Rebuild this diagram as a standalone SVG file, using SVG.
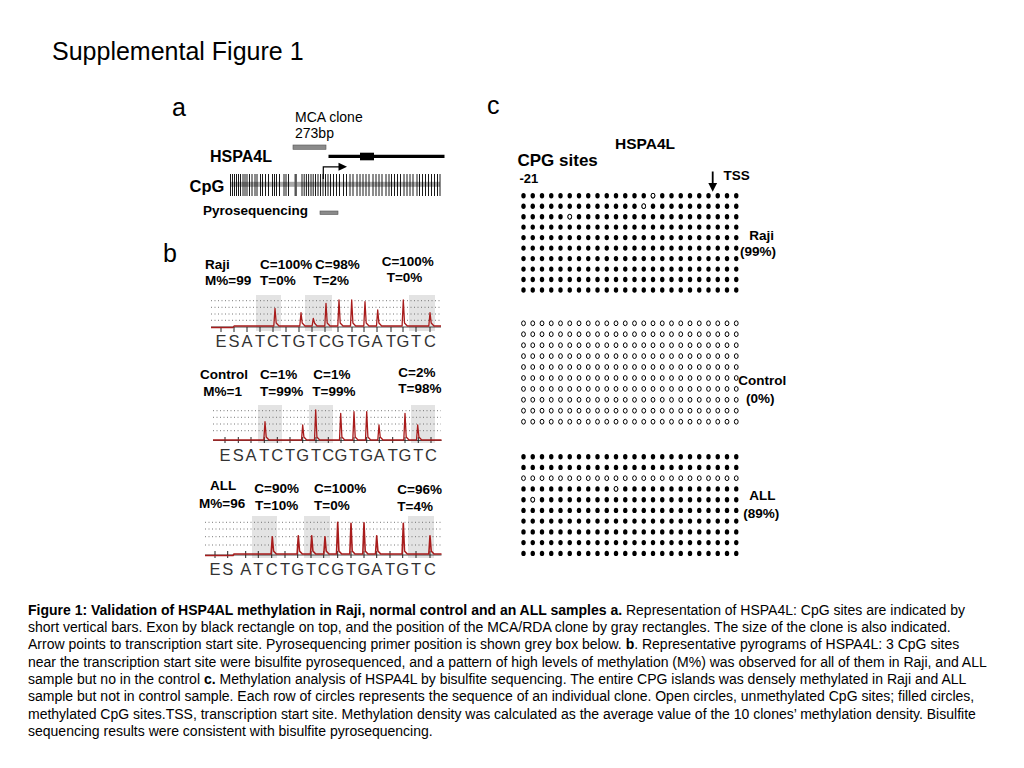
<svg xmlns="http://www.w3.org/2000/svg" xmlns:xlink="http://www.w3.org/1999/xlink" width="1024" height="768" viewBox="0 0 1024 768">
<style>
text{font-family:"Liberation Sans",Arial,sans-serif;fill:#000}
.b{font-weight:bold}
.lbl{font-size:13.5px;font-weight:bold}
.seq{font-size:16.5px;fill:#333;text-anchor:middle}
.cap{font-size:14px}
.shade{fill:#e3e3e3}
.dot{stroke:#555;stroke-width:0.8;stroke-dasharray:1 2.5}
.trace{fill:none;stroke:#a81c1c;stroke-width:1.3;stroke-linejoin:round}
.base{stroke:#222;stroke-width:0.8}
.tick{stroke:#222;stroke-width:1}
.f{fill:#000}
.o{fill:#fff;stroke:#000;stroke-width:1}
</style>
<defs>
<g id="rf">
<ellipse class="f" cx="523.5" cy="0" rx="2.2" ry="2.7"/><ellipse class="f" cx="532.75" cy="0" rx="2.2" ry="2.7"/><ellipse class="f" cx="542" cy="0" rx="2.2" ry="2.7"/><ellipse class="f" cx="551.25" cy="0" rx="2.2" ry="2.7"/><ellipse class="f" cx="560.5" cy="0" rx="2.2" ry="2.7"/><ellipse class="f" cx="569.75" cy="0" rx="2.2" ry="2.7"/><ellipse class="f" cx="579" cy="0" rx="2.2" ry="2.7"/><ellipse class="f" cx="588.25" cy="0" rx="2.2" ry="2.7"/><ellipse class="f" cx="597.5" cy="0" rx="2.2" ry="2.7"/><ellipse class="f" cx="606.75" cy="0" rx="2.2" ry="2.7"/><ellipse class="f" cx="616" cy="0" rx="2.2" ry="2.7"/><ellipse class="f" cx="625.25" cy="0" rx="2.2" ry="2.7"/><ellipse class="f" cx="634.5" cy="0" rx="2.2" ry="2.7"/><ellipse class="f" cx="643.75" cy="0" rx="2.2" ry="2.7"/><ellipse class="f" cx="653" cy="0" rx="2.2" ry="2.7"/><ellipse class="f" cx="662.25" cy="0" rx="2.2" ry="2.7"/><ellipse class="f" cx="671.5" cy="0" rx="2.2" ry="2.7"/><ellipse class="f" cx="680.75" cy="0" rx="2.2" ry="2.7"/><ellipse class="f" cx="690" cy="0" rx="2.2" ry="2.7"/><ellipse class="f" cx="699.25" cy="0" rx="2.2" ry="2.7"/><ellipse class="f" cx="708.5" cy="0" rx="2.2" ry="2.7"/><ellipse class="f" cx="717.75" cy="0" rx="2.2" ry="2.7"/><ellipse class="f" cx="727" cy="0" rx="2.2" ry="2.7"/><ellipse class="f" cx="736.25" cy="0" rx="2.2" ry="2.7"/>
</g>
<g id="ro">
<ellipse class="o" cx="523.5" cy="0" rx="1.9" ry="2.4"/><ellipse class="o" cx="532.75" cy="0" rx="1.9" ry="2.4"/><ellipse class="o" cx="542" cy="0" rx="1.9" ry="2.4"/><ellipse class="o" cx="551.25" cy="0" rx="1.9" ry="2.4"/><ellipse class="o" cx="560.5" cy="0" rx="1.9" ry="2.4"/><ellipse class="o" cx="569.75" cy="0" rx="1.9" ry="2.4"/><ellipse class="o" cx="579" cy="0" rx="1.9" ry="2.4"/><ellipse class="o" cx="588.25" cy="0" rx="1.9" ry="2.4"/><ellipse class="o" cx="597.5" cy="0" rx="1.9" ry="2.4"/><ellipse class="o" cx="606.75" cy="0" rx="1.9" ry="2.4"/><ellipse class="o" cx="616" cy="0" rx="1.9" ry="2.4"/><ellipse class="o" cx="625.25" cy="0" rx="1.9" ry="2.4"/><ellipse class="o" cx="634.5" cy="0" rx="1.9" ry="2.4"/><ellipse class="o" cx="643.75" cy="0" rx="1.9" ry="2.4"/><ellipse class="o" cx="653" cy="0" rx="1.9" ry="2.4"/><ellipse class="o" cx="662.25" cy="0" rx="1.9" ry="2.4"/><ellipse class="o" cx="671.5" cy="0" rx="1.9" ry="2.4"/><ellipse class="o" cx="680.75" cy="0" rx="1.9" ry="2.4"/><ellipse class="o" cx="690" cy="0" rx="1.9" ry="2.4"/><ellipse class="o" cx="699.25" cy="0" rx="1.9" ry="2.4"/><ellipse class="o" cx="708.5" cy="0" rx="1.9" ry="2.4"/><ellipse class="o" cx="717.75" cy="0" rx="1.9" ry="2.4"/><ellipse class="o" cx="727" cy="0" rx="1.9" ry="2.4"/><ellipse class="o" cx="736.25" cy="0" rx="1.9" ry="2.4"/>
</g>
</defs>
<rect width="1024" height="768" fill="#fff"/>

<text x="52" y="59.5" style="font-size:25px">Supplemental Figure 1</text>

<g id="panel-a">
<text x="172" y="116" style="font-size:25px">a</text>
<text x="295" y="121.5" style="font-size:14px">MCA clone</text>
<text x="295" y="137.5" style="font-size:14px">273bp</text>
<rect x="293" y="145" width="33" height="4.3" fill="#8a8a8a" stroke="#555" stroke-width="0.6"/>
<text x="210" y="162" class="b" style="font-size:16px">HSPA4L</text>
<line x1="328.5" y1="156.3" x2="444.5" y2="156.3" stroke="#000" stroke-width="3.3"/>
<rect x="360" y="152.7" width="14" height="7.6" fill="#000"/>
<text x="189.5" y="191.5" class="b" style="font-size:16.5px">CpG</text>
<rect x="230" y="181.8" width="210" height="5" fill="#aaa"/>
<path stroke="#000" stroke-width="0.9" d="M230.5,174V196M232.5,174V196M234.5,174V196M236.5,174V196M238.5,174V196M240.5,174V196M243,174V196M245,174V196M247,174V196M249.5,174V196M252,174V196M255,174V196M257,174V196M260.5,174V196M262.5,174V196M265.5,174V196M268.5,174V196M272.5,174V196M274.5,174V196M276.5,174V196M279.5,174V196M284,174V196M286,174V196M288.5,174V196M302,174V196M304.2,174V196M306.4,174V196M308.6,174V196M311,174V196M313.2,174V196M315.5,174V196M318,174V196M320.5,174V196M323,174V196M325.5,174V196M328,174V196M330.5,174V196M333.5,174V196M336.5,174V196M339.5,174V196M343.5,174V196M346.5,174V196M350,174V196M353,174V196M357,174V196M360,174V196M363,174V196M366,174V196M369,174V196M373,174V196M376,174V196M379,174V196M382,174V196M386,174V196M389,174V196M391.5,174V196M394.5,174V196M397.5,174V196M400.5,174V196M404,174V196M407,174V196M410,174V196M413,174V196M417,174V196M419.5,174V196M422.5,174V196M425.5,174V196M428.5,174V196M431.5,174V196M434.5,174V196M437.5,174V196M440,174V196"/>
<rect x="294.5" y="174" width="2.4" height="22" fill="#555"/>
<polyline points="323.3,179 323.3,166.8 340,166.8" fill="none" stroke="#000" stroke-width="1.2"/>
<polygon points="338.5,162.8 347,166.8 338.5,170.8" fill="#000"/>
<text x="203" y="214.5" class="b" style="font-size:13.5px">Pyrosequencing</text>
<rect x="320" y="211" width="18" height="3.5" fill="#8a8a8a" stroke="#555" stroke-width="0.6"/>
</g>

<g id="panel-b">
<text x="163" y="262" style="font-size:25px">b</text>

<g id="pyro-raji">
<text x="205" y="269.3" class="lbl">Raji</text>
<text x="205" y="285" class="lbl">M%=99</text>
<text x="260" y="269.3" class="lbl">C=100%</text>
<text x="260" y="285" class="lbl">T=0%</text>
<text x="315" y="269.3" class="lbl">C=98%</text>
<text x="313.3" y="285" class="lbl">T=2%</text>
<text x="381.7" y="266" class="lbl">C=100%</text>
<text x="386.7" y="281.7" class="lbl">T=0%</text>
<rect class="shade" x="256" y="295" width="25" height="36"/>
<rect class="shade" x="305" y="295" width="27" height="36"/>
<rect class="shade" x="409" y="295" width="26" height="36"/>
<path class="dot" d="M211,300.7H441M211,307.3H441M211,314H441M211,320.3H441"/>
<line class="base" x1="211" y1="327" x2="441" y2="327"/>
<path class="tick" d="M221,327V332M234,327V332M247,327V332M260,327V332M273,327V332M286,327V332M299,327V332M312,327V332M325,327V332M338,327V332M352,327V332M364,327V332M377,327V332M391,327V332M403,327V332M416,327V332M430,327V332"/>
<path class="trace" d="M211,327.5 L233,327.5 L234,326 L273.8,326 L275,308.3 L276.2,323 L279,326 L299.8,326 L301,312.7 L302.2,323 L305,326 L312.1,326 L313.3,318.3 L314.5,323 L317,326 L324.8,326 L326,303.3 L327.2,323 L330,326 L337.8,326 L339,300 L340.2,323 L343,326 L350.5,326 L351.7,300 L352.9,323 L355.7,326 L363.8,326 L365,301.7 L366.2,323 L369,326 L376.5,326 L377.7,310 L378.9,323 L381.7,326 L402.1,326 L403.3,300 L404.5,323 L407.3,326 L428.8,326 L430,312.7 L431.2,323 L434,326 L441,326"/>
<g><text x="221" y="346.5" class="seq">E</text><text x="234" y="346.5" class="seq">S</text><text x="247" y="346.5" class="seq">A</text><text x="260" y="346.5" class="seq">T</text><text x="273" y="346.5" class="seq">C</text><text x="286" y="346.5" class="seq">T</text><text x="299" y="346.5" class="seq">G</text><text x="312" y="346.5" class="seq">T</text><text x="325" y="346.5" class="seq">C</text><text x="338" y="346.5" class="seq">G</text><text x="352" y="346.5" class="seq">T</text><text x="364" y="346.5" class="seq">G</text><text x="377" y="346.5" class="seq">A</text><text x="391" y="346.5" class="seq">T</text><text x="403" y="346.5" class="seq">G</text><text x="416" y="346.5" class="seq">T</text><text x="430" y="346.5" class="seq">C</text></g>
</g>

<g id="pyro-control">
<text x="200" y="379.3" class="lbl">Control</text>
<text x="203.3" y="396" class="lbl">M%=1</text>
<text x="260" y="379.3" class="lbl">C=1%</text>
<text x="260" y="396" class="lbl">T=99%</text>
<text x="313.3" y="379.3" class="lbl">C=1%</text>
<text x="312.3" y="396" class="lbl">T=99%</text>
<text x="398.3" y="376.7" class="lbl">C=2%</text>
<text x="398.3" y="393.3" class="lbl">T=98%</text>
<rect class="shade" x="258" y="405" width="24" height="38"/>
<rect class="shade" x="309" y="405" width="24" height="38"/>
<rect class="shade" x="411" y="405" width="24" height="38"/>
<path class="dot" d="M213,410.7H441M213,417.3H441M213,424H441M213,430.7H441"/>
<line class="base" x1="213" y1="440.5" x2="441.5" y2="440.5"/>
<path class="tick" d="M225,437V443M238.3,437V443M251,437V443M264.3,437V443M277.3,437V443M290,437V443M302.7,437V443M316,437V443M328.3,437V443M341,437V443M354,437V443M366.7,437V443M379.3,437V443M392.7,437V443M405,437V443M418.3,437V443M431,437V443"/>
<path class="trace" d="M213,440 L263.8,440 L265,421.7 L266.2,437 L269,440 L301.5,440 L302.7,425 L303.9,437 L306.7,440 L314.5,440 L315.7,410 L316.9,437 L319.7,440 L339.5,440 L340.7,413.3 L341.9,437 L344.7,440 L352.8,440 L354,411.7 L355.2,437 L358,440 L365.5,440 L366.7,411.7 L367.9,437 L370.7,440 L377.8,440 L379,425 L380.2,437 L383,440 L403.8,440 L405,413.3 L406.2,437 L409,440 L416.5,440 L417.7,425 L418.9,437 L421.7,440 L441.5,440"/>
<g><text x="225" y="460.5" class="seq">E</text><text x="238.3" y="460.5" class="seq">S</text><text x="251" y="460.5" class="seq">A</text><text x="264.3" y="460.5" class="seq">T</text><text x="277.3" y="460.5" class="seq">C</text><text x="290" y="460.5" class="seq">T</text><text x="302.7" y="460.5" class="seq">G</text><text x="316" y="460.5" class="seq">T</text><text x="328.3" y="460.5" class="seq">C</text><text x="341" y="460.5" class="seq">G</text><text x="354" y="460.5" class="seq">T</text><text x="366.7" y="460.5" class="seq">G</text><text x="379.3" y="460.5" class="seq">A</text><text x="392.7" y="460.5" class="seq">T</text><text x="405" y="460.5" class="seq">G</text><text x="418.3" y="460.5" class="seq">T</text><text x="431" y="460.5" class="seq">C</text></g>
</g>

<g id="pyro-all">
<text x="210" y="490" class="lbl">ALL</text>
<text x="199" y="508.3" class="lbl">M%=96</text>
<text x="254.3" y="493.3" class="lbl">C=90%</text>
<text x="255" y="510" class="lbl">T=10%</text>
<text x="314" y="493.3" class="lbl">C=100%</text>
<text x="314" y="510" class="lbl">T=0%</text>
<text x="397.3" y="494" class="lbl">C=96%</text>
<text x="397.3" y="511" class="lbl">T=4%</text>
<rect class="shade" x="252" y="516" width="25" height="42"/>
<rect class="shade" x="304" y="516" width="26" height="42"/>
<rect class="shade" x="408" y="516" width="26" height="42"/>
<path class="dot" d="M205,522.3H441M205,529H441M205,536.7H441M205,545H441"/>
<line class="base" x1="205" y1="555" x2="441.5" y2="555"/>
<path class="tick" d="M215,551V558M227.7,551V558M245.7,551V558M258.3,551V558M271.7,551V558M285,551V558M297.7,551V558M311,551V558M323.7,551V558M337.7,551V558M351,551V558M364,551V558M376.7,551V558M390,551V558M402.7,551V558M416,551V558M430,551V558"/>
<path class="trace" style="stroke-width:1.6" d="M205,555.5 L233,555.5 L234,554 L271.1,554 L272.3,536.7 L273.5,551 L276.3,554 L297.1,554 L298.3,535.7 L299.5,551 L302.3,554 L310.5,554 L311.7,535.7 L312.9,551 L315.7,554 L323.8,554 L325,536.7 L326.2,551 L329,554 L336.5,554 L337.7,522.3 L338.9,551 L341.7,554 L349.8,554 L351,523.3 L352.2,551 L355,554 L362.8,554 L364,522.7 L365.2,551 L368,554 L375.5,554 L376.7,535.7 L377.9,551 L380.7,554 L402.1,554 L403.3,523.3 L404.5,551 L407.3,554 L428.8,554 L430,535.7 L431.2,551 L434,554 L441.5,554"/>
<g><text x="215" y="574.5" class="seq">E</text><text x="227.7" y="574.5" class="seq">S</text><text x="245.7" y="574.5" class="seq">A</text><text x="258.3" y="574.5" class="seq">T</text><text x="271.7" y="574.5" class="seq">C</text><text x="285" y="574.5" class="seq">T</text><text x="297.7" y="574.5" class="seq">G</text><text x="311" y="574.5" class="seq">T</text><text x="323.7" y="574.5" class="seq">C</text><text x="337.7" y="574.5" class="seq">G</text><text x="351" y="574.5" class="seq">T</text><text x="364" y="574.5" class="seq">G</text><text x="376.7" y="574.5" class="seq">A</text><text x="390" y="574.5" class="seq">T</text><text x="402.7" y="574.5" class="seq">G</text><text x="416" y="574.5" class="seq">T</text><text x="430" y="574.5" class="seq">C</text></g>
</g>
</g>

<g id="panel-c">
<text x="487" y="114" style="font-size:25px">c</text>
<text x="615" y="148.5" class="b" style="font-size:15.5px">HSPA4L</text>
<text x="517.5" y="165.5" class="b" style="font-size:17px">CPG sites</text>
<text x="519.5" y="183.3" class="b" style="font-size:13px">-21</text>
<text x="723.5" y="179.5" class="b" style="font-size:13.5px">TSS</text>
<line x1="712.7" y1="171.5" x2="712.7" y2="184" stroke="#000" stroke-width="1.8"/>
<polygon points="708.3,183 717.1,183 712.7,191.8" fill="#000"/>

<g id="clones-raji">
<use href="#rf" y="195.7"/><use href="#rf" y="206.2"/><use href="#rf" y="216.7"/><use href="#rf" y="227.1"/><use href="#rf" y="237.6"/><use href="#rf" y="248.1"/><use href="#rf" y="258.6"/><use href="#rf" y="269.1"/><use href="#rf" y="279.5"/><use href="#rf" y="290"/>
<ellipse class="o" cx="653" cy="195.7" rx="1.9" ry="2.4"/>
<ellipse class="o" cx="643.75" cy="206.2" rx="1.9" ry="2.4"/>
<ellipse class="o" cx="569.75" cy="216.7" rx="1.9" ry="2.4"/>
<text x="749.3" y="240" class="lbl">Raji</text>
<text x="740" y="256" class="lbl">(99%)</text>
</g>

<g id="clones-control">
<use href="#ro" y="323.3"/><use href="#ro" y="334.2"/><use href="#ro" y="345.2"/><use href="#ro" y="356.1"/><use href="#ro" y="367"/><use href="#ro" y="378"/><use href="#ro" y="388.9"/><use href="#ro" y="399.8"/><use href="#ro" y="410.7"/><use href="#ro" y="421.7"/>
<text x="738.3" y="385" class="lbl">Control</text>
<text x="746" y="403" class="lbl">(0%)</text>
</g>

<g id="clones-all">
<use href="#rf" y="456.7"/><use href="#rf" y="467.4"/><use href="#ro" y="478.2"/><use href="#rf" y="488.9"/><use href="#rf" y="499.7"/><use href="#rf" y="510.4"/><use href="#rf" y="521.1"/><use href="#rf" y="531.9"/><use href="#rf" y="542.6"/><use href="#rf" y="553.4"/>
<ellipse class="o" cx="616" cy="488.9" rx="1.9" ry="2.4"/>
<ellipse class="o" cx="532.75" cy="499.7" rx="1.9" ry="2.4"/>
<text x="749.3" y="500" class="lbl">ALL</text>
<text x="743.3" y="517.5" class="lbl">(89%)</text>
</g>
</g>

<g id="caption" class="cap">
<text x="28" y="614.7" class="cap"><tspan class="b">Figure 1: Validation of HSP4AL methylation in Raji, normal control and an ALL samples a.</tspan> Representation of HSPA4L: CpG sites are indicated by</text>
<text x="28" y="632" class="cap">short vertical bars. Exon by black rectangle on top, and the position of the MCA/RDA clone by gray rectangles. The size of the clone is also indicated.</text>
<text x="28" y="649.3" class="cap">Arrow points to transcription start site. Pyrosequencing primer position is shown grey box below. <tspan class="b">b</tspan>. Representative pyrograms of HSPA4L: 3 CpG sites</text>
<text x="28" y="666.6" class="cap">near the transcription start site were bisulfite pyrosequenced, and a pattern of high levels of methylation (M%) was observed for all of them in Raji, and ALL</text>
<text x="28" y="683.9" class="cap">sample but no in the control <tspan class="b">c.</tspan> Methylation analysis of HSPA4L by bisulfite sequencing. The entire CPG islands was densely methylated in Raji and ALL</text>
<text x="28" y="701.2" class="cap">sample but not in control sample. Each row of circles represents the sequence of an individual clone. Open circles, unmethylated CpG sites; filled circles,</text>
<text x="28" y="718.5" class="cap">methylated CpG sites.TSS, transcription start site. Methylation density was calculated as the average value of the 10 clones’ methylation density. Bisulfite</text>
<text x="28" y="735.8" class="cap">sequencing results were consistent with bisulfite pyrosequencing.</text>
</g>
</svg>
